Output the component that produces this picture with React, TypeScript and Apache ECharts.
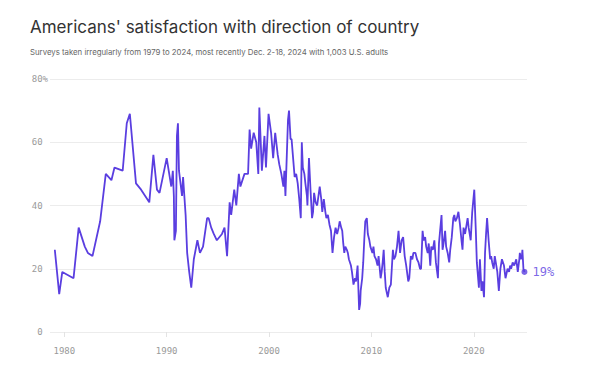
import React, { useEffect, useRef } from "react";
import * as echarts from "echarts";

const TITLE = "Americans' satisfaction with direction of country";
const SUBTITLE = "Surveys taken irregularly from 1979 to 2024, most recently Dec. 2-18, 2024 with 1,003 U.S. adults";

const xTicks = [1980, 1990, 2000, 2010, 2020];
const yTicks = [0, 20, 40, 60, 80];

const years = [
  1979.07, 1979.5, 1979.8, 1980.9, 1981.4, 1982.0, 1982.3, 1982.75, 1983.5, 1984.05,
  1984.6, 1984.9, 1985.7, 1986.1, 1986.4, 1987.0, 1987.5, 1988.3, 1988.7, 1989.05,
  1989.3, 1990.0, 1990.45, 1990.6, 1990.7, 1990.75, 1990.9, 1991.0, 1991.1, 1991.2,
  1991.5, 1991.6, 1991.85, 1992.0, 1992.2, 1992.4, 1992.65, 1993.0, 1993.25, 1993.55,
  1993.95, 1994.1, 1994.35, 1994.6, 1994.9, 1995.4, 1995.65, 1995.9, 1996.15, 1996.3,
  1996.6, 1996.8, 1997.05, 1997.2, 1997.6, 1997.95, 1998.1, 1998.25, 1998.5, 1998.75,
  1998.95, 1999.05, 1999.3, 1999.55, 1999.7, 1999.95, 2000.2, 2000.4, 2000.6, 2000.85,
  2001.0, 2001.2, 2001.4, 2001.5, 2001.6, 2001.85, 2001.95, 2002.1, 2002.2, 2002.35,
  2002.5, 2002.65, 2002.8, 2002.95, 2003.1, 2003.2, 2003.3, 2003.45, 2003.55, 2003.7,
  2003.75, 2003.9, 2004.05, 2004.2, 2004.3, 2004.4, 2004.55, 2004.7, 2004.95, 2005.1,
  2005.2, 2005.35, 2005.5, 2005.6, 2005.75, 2005.9, 2006.05, 2006.2, 2006.35, 2006.5,
  2006.65, 2006.8, 2006.9, 2007.05, 2007.15, 2007.25, 2007.35, 2007.45, 2007.6, 2007.7,
  2007.8, 2008.0, 2008.1, 2008.25, 2008.4, 2008.5, 2008.65, 2008.8, 2008.9, 2008.95,
  2009.1, 2009.2, 2009.3, 2009.4, 2009.55, 2009.65, 2009.8, 2009.9, 2010.1, 2010.2,
  2010.3, 2010.45, 2010.6, 2010.7, 2010.9, 2011.0, 2011.1, 2011.2, 2011.3, 2011.4,
  2011.6, 2011.75, 2011.9, 2012.1, 2012.2, 2012.35, 2012.5, 2012.65, 2012.8, 2012.95,
  2013.1, 2013.25, 2013.4, 2013.6, 2013.7, 2013.85, 2014.0, 2014.1, 2014.3, 2014.45,
  2014.6, 2014.75, 2014.85, 2015.0, 2015.1, 2015.25, 2015.35, 2015.5, 2015.6, 2015.75,
  2015.85, 2016.0, 2016.15, 2016.3, 2016.5, 2016.6, 2016.85, 2016.95, 2017.05, 2017.2,
  2017.3, 2017.45, 2017.6, 2017.7, 2017.85, 2018.0, 2018.1, 2018.2, 2018.35, 2018.5,
  2018.65, 2018.8, 2018.9, 2019.0, 2019.15, 2019.4, 2019.5, 2019.6, 2019.7, 2019.85,
  2020.05, 2020.2, 2020.3, 2020.5, 2020.6, 2020.75, 2020.85, 2021.0, 2021.1, 2021.2,
  2021.3, 2021.45, 2021.6, 2021.7, 2021.8, 2021.95, 2022.05, 2022.15, 2022.3, 2022.45,
  2022.6, 2022.75, 2022.95, 2023.1, 2023.3, 2023.45, 2023.55, 2023.65, 2023.8, 2023.95,
  2024.15, 2024.3, 2024.45, 2024.5, 2024.6, 2024.7, 2024.75, 2024.85, 2024.95,
];

const satisfied = [
  26, 12, 19, 17, 33, 27, 25, 24, 35, 50,
  48, 52, 51, 66, 69, 47, 45, 41, 56, 45,
  44, 55, 46, 51, 43, 29, 32, 62, 66, 51,
  43, 49, 37, 25, 19, 14, 23, 29, 25, 27,
  36, 36, 33, 31, 29, 31, 33, 24, 41, 37,
  45, 40, 50, 46, 50, 50, 64, 58, 63, 60,
  50, 71, 51, 62, 52, 69, 63, 55, 63, 56,
  53, 50, 46, 51, 43, 67, 70, 61, 61, 55,
  49, 50, 47, 42, 36, 60, 52, 50, 47, 43,
  40, 55, 45, 36, 38, 44, 41, 40, 46, 42,
  38, 42, 38, 36, 37, 34, 32, 25, 30, 33,
  31, 33, 35, 33, 32, 28, 25, 27, 26, 25,
  23, 21, 19, 15, 17, 16, 21, 7, 9, 13,
  17, 22, 29, 35, 36, 31, 29, 27, 25, 27,
  24, 23, 21, 24, 17, 19, 22, 26, 19, 14,
  11, 14, 15, 26, 23, 24, 27, 32, 25, 29,
  30, 24, 21, 16, 17, 24, 23, 25, 25, 23,
  22, 20, 20, 32, 29, 30, 27, 25, 28, 21,
  27, 26, 29, 22, 17, 28, 37, 26, 28, 32,
  27, 25, 22, 26, 30, 36, 37, 35, 36, 38,
  34, 29, 26, 33, 31, 36, 33, 31, 29, 38,
  45, 32, 22, 14, 23, 13, 16, 11, 25, 31,
  36, 29, 23, 24, 22, 20, 24, 22, 19, 13,
  20, 23, 21, 17, 20, 19, 21, 20, 22, 21,
  23, 19, 23, 25, 23, 24, 26, 20, 19,
];

const LINE_COLOR = "#5a3ee0";
const MONO = "'DejaVu Sans Mono', 'Liberation Mono', monospace";

export default function App() {
  const ref = useRef<HTMLDivElement>(null);

  useEffect(() => {
    if (!ref.current) return;
    const chart = echarts.init(ref.current, undefined, { renderer: "svg" });
    const data = years.map((y, i) => [y, satisfied[i]]);
    const last = data[data.length - 1];

    chart.setOption({
      animation: false,
      backgroundColor: "#ffffff",
      title: {
        text: TITLE,
        subtext: SUBTITLE,
        left: 25,
        top: 13,
        itemGap: 13,
        textStyle: {
          fontFamily: "Inter, 'Noto Sans', sans-serif",
          fontSize: 17,
          fontWeight: 400,
          color: "#333333",
        },
        subtextStyle: {
          fontFamily: "Inter, 'Noto Sans', sans-serif",
          fontSize: 7.8,
          color: "#666666",
        },
      },
      grid: { left: 50, right: 73, top: 79, bottom: 49 },
      xAxis: {
        type: "value",
        min: 1978.6,
        max: 2025.2,
        splitLine: { show: false },
        axisLine: { show: false },
        axisTick: {
          show: true,
          customValues: xTicks,
          length: 5,
          lineStyle: { color: "#e3e3e3" },
        },
        axisLabel: {
          customValues: xTicks,
          fontFamily: MONO,
          fontSize: 9,
          color: "#9a9a9a",
          margin: 14,
          formatter: (v: number) => String(v),
        },
      },
      yAxis: {
        type: "value",
        min: 0,
        max: 80,
        interval: 20,
        axisLine: { show: false },
        axisTick: { show: false },
        splitLine: { lineStyle: { color: "#ececec", width: 1 } },
        axisLabel: {
          fontFamily: MONO,
          fontSize: 9,
          color: "#9a9a9a",
          margin: 2,
          formatter: (v: number) => (v === yTicks[yTicks.length - 1] ? v + "%" : v + "{h|%}"),
          rich: {
            h: { fontFamily: MONO, fontSize: 9, color: "rgba(0,0,0,0)" },
          },
        },
      },
      series: [
        {
          type: "line",
          data,
          showSymbol: false,
          symbol: "none",
          lineStyle: { color: LINE_COLOR, width: 1.8 },
          itemStyle: { color: LINE_COLOR },
          z: 3,
        },
        {
          type: "scatter",
          data: [last],
          symbol: "circle",
          symbolSize: 6,
          itemStyle: { color: LINE_COLOR },
          z: 4,
          label: {
            show: true,
            position: "right",
            distance: 5,
            formatter: (p: any) => p.value[1] + "%",
            fontFamily: MONO,
            fontSize: 12,
            color: LINE_COLOR,
          },
        },
      ],
    });

    return () => chart.dispose();
  }, []);

  return (
    <div
      ref={ref}
      style={{ position: "absolute", left: 0, top: 0, width: 600, height: 381 }}
    />
  );
}
